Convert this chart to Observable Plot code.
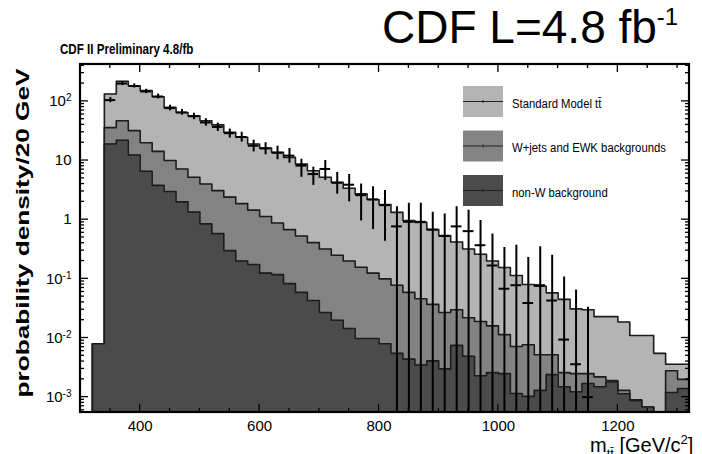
<!DOCTYPE html>
<html>
<head>
<meta charset="utf-8">
<script src="https://cdn.jsdelivr.net/npm/d3@7"></script>
<script src="https://cdn.jsdelivr.net/npm/@observablehq/plot@0.6"></script>
<style>
  html, body { margin: 0; padding: 0; background: #fff; }
  #chart { width: 702px; height: 454px; overflow: hidden; }
  #chart svg { display: block; }
</style>
</head>
<body>
<div id="chart"></div>
<script>
// Lower edges of the 20 GeV/c^2 mass bins
const binLow = [320, 340, 360, 380, 400, 420, 440, 460, 480, 500,
                520, 540, 560, 580, 600, 620, 640, 660, 680, 700,
                720, 740, 760, 780, 800, 820, 840, 860, 880, 900,
                920, 940, 960, 980, 1000, 1020, 1040, 1060, 1080, 1100,
                1120, 1140, 1160, 1180, 1200, 1220, 1240, 1260, 1280, 1300];
const binWidth = 20;

// Stacked predictions (probability density / 20 GeV)
// top of the stack: Standard Model tt + W+jets/EWK + non-W
const smTotal = [0.008, 133, 218, 184, 152, 120, 79, 65, 57, 47,
                 40, 30, 24.7, 19, 16.3, 13.8, 11.3, 8.7, 6.7, 5.2,
                 4.3, 3.4, 2.73, 2.19, 1.80, 1.33, 0.97, 0.90, 0.68, 0.54,
                 0.42, 0.32, 0.26, 0.20, 0.155, 0.114, 0.080, 0.075, 0.058, 0.045,
                 0.031, 0.030, 0.023, 0.023, 0.0186, 0.011, 0.011, 0.0055, 0.0036, 0.0036];
// W+jets and EWK backgrounds stacked on non-W
const wjetsStack = [0.008, 36, 47, 32, 20, 14.3, 10, 7.2, 5.2, 4.0,
                    3.1, 2.41, 1.87, 1.45, 1.13, 0.88, 0.68, 0.53, 0.41, 0.32,
                    0.25, 0.20, 0.157, 0.125, 0.10, 0.078, 0.059, 0.046, 0.037, 0.027,
                    0.030, 0.022, 0.019, 0.016, 0.0114, 0.0072, 0.0077, 0.0052, 0.0052, 0.0026,
                    0.0025, 0.0025, 0.0022, 0.0019, 0.0013, 0.0009, 0.00068, 0, 0.0028, 0.0020];
// non-W background
const nonW = [0.008, 19, 22, 12.4, 6.6, 3.8, 3.0, 2.0, 1.35, 0.85,
              0.58, 0.30, 0.20, 0.175, 0.125, 0.118, 0.083, 0.059, 0.043, 0.027,
              0.020, 0.0145, 0.0098, 0.0098, 0.0080, 0.0055, 0.0044, 0.0035, 0.0041, 0.0030,
              0.0075, 0.0049, 0.0023, 0.0026, 0.0025, 0.00115, 0.00103, 0.0013, 0.0024, 0.0015,
              0.00123, 0.0017, 0.0015, 0.0018, 0.00114, 0.00087, 0.00068, 0, 0.0012, 0.0014];

// Unfolded data: bin centre, value and error-bar ends (0 = bar reaches the axis)
const dataMass = [350, 370, 390, 410, 430, 450, 470, 490, 510, 530,
                  550, 570, 590, 610, 630, 650, 670, 690, 710, 730,
                  750, 770, 790, 810, 830, 850, 870, 890, 910, 930,
                  950, 970, 990, 1010, 1030, 1050, 1070, 1090, 1110, 1130, 1150];
const dataValue = [105, 200, 182, 147, 121, 77, 65, 56, 44, 37,
                   29, 25, 17.8, 16, 13.5, 12.1, 8.2, 5.9, 7.2, 4.2,
                   3.9, 2.6, 2.2, 1.76, 0.77, 0.92, 0.92, 0.68, 0.53, 0.77,
                   0.64, 0.37, 0.168, 0.068, 0.078, 0.039, 0.078, 0.043, 0.0094, 0.0036, 0.001];
const dataLow = [95, 185, 168, 135, 110, 69, 58, 49, 38, 31,
                 24, 20.5, 14, 12.5, 10.3, 9, 5.2, 3.8, 4.6, 2.7,
                 2.0, 0.95, 0.68, 0.43, 0, 0, 0, 0, 0, 0,
                 0, 0, 0, 0, 0, 0, 0, 0, 0, 0, 0];
const dataHigh = [116, 215, 197, 160, 133, 86, 73, 63, 51, 43,
                  34, 30, 22, 20, 17.5, 16, 10.5, 7.7, 10, 6.3,
                  5.8, 4.0, 3.6, 3.1, 1.66, 1.9, 1.9, 1.33, 1.25, 1.66,
                  1.45, 0.97, 0.57, 0.34, 0.37, 0.23, 0.35, 0.25, 0.107, 0.065, 0.033];

const yTickValues = [1e-3, 1e-2, 1e-1, 1, 10, 100];
const yTickText = ["10^-3", "10^-2", "10^-1", "1", "10", "10^2"];
const xTickValues = [400, 600, 800, 1000, 1200];

const legendLabels = ["Standard Model t\u0074\u0304", "W+jets and EWK backgrounds", "non-W background"];

const colLight = "#b4b4b4", colMid = "#838383", colDark = "#4b4b4b", colEdge = "#1c1c1c";
const floorVal = 1e-6;
const font = "'Liberation Sans', Arial, Helvetica, sans-serif";

// Step outline of one histogram, closed down to the axis on the left
function steps(values) {
  const pts = [{x: binLow[0], y: floorVal}];
  binLow.forEach((x, i) => pts.push({x, y: values[i] > 0 ? values[i] : floorVal}));
  const last = values[values.length - 1];
  pts.push({x: binLow[binLow.length - 1] + binWidth, y: last > 0 ? last : floorVal});
  return pts;
}

const layers = [
  {values: smTotal, fill: colLight},
  {values: wjetsStack, fill: colMid},
  {values: nonW, fill: colDark}
];

const dataRows = dataMass.map((m, i) => ({
  m, v: dataValue[i], lo: dataLow[i] > 0 ? dataLow[i] : floorVal, hi: dataHigh[i]
}));

const marks = [];
for (const L of layers) {
  const pts = steps(L.values);
  marks.push(Plot.areaY(pts, {x: "x", y1: floorVal, y2: "y", curve: "step-after", fill: L.fill, clip: true}));
  marks.push(Plot.lineY(pts, {x: "x", y: "y", curve: "step-after", stroke: colEdge, strokeWidth: 1.6, clip: true}));
}
marks.push(Plot.ruleX(dataRows, {x: "m", y1: "lo", y2: "hi", stroke: "#000", strokeWidth: 2, clip: true}));
marks.push(Plot.ruleY(dataRows, {y: "v", x1: d => d.m - 9, x2: d => d.m + 9, stroke: "#000", strokeWidth: 2, clip: true}));
marks.push(Plot.axisX({ticks: xTickValues, tickSize: 0, tickPadding: 8, fontSize: 15, label: null, tickFormat: d => String(d)}));
marks.push(Plot.axisY({ticks: yTickValues, tickSize: 0, tickPadding: 9, fontSize: 15, label: null,
  tickFormat: d => yTickText[yTickValues.indexOf(d)]}));

const plot = Plot.plot({
  width: 702,
  height: 454,
  marginLeft: 80,
  marginRight: 13,
  marginTop: 64,
  marginBottom: 42,
  style: {fontFamily: font, background: "#fff", color: "#000", overflow: "visible"},
  x: {domain: [300, 1320]},
  y: {type: "log", domain: [5.5e-4, 420]},
  marks
});

document.getElementById("chart").appendChild(plot);

const svg = d3.select(plot);
const xs = plot.scale("x"), ys = plot.scale("y");
const X0 = xs.apply(300), X1 = xs.apply(1320);
const Y0 = ys.apply(420), Y1 = ys.apply(5.5e-4);

// Superscript exponents on the y tick labels
svg.selectAll("g[aria-label='y-axis tick label'] text").each(function () {
  const t = d3.select(this);
  const s = t.text();
  if (s.includes("^")) {
    const [base, exp] = s.split("^");
    t.text("");
    t.append("tspan").text(base);
    t.append("tspan").attr("dy", "-0.5em").attr("font-size", "10px").text(exp);
  }
});

// Frame with inward ticks on all four sides
const g = svg.append("g").attr("stroke", "#000").attr("fill", "none");
const tickY = [];
for (let e = -4; e <= 2; e++) for (let m = 1; m <= 9; m++) {
  const v = m * Math.pow(10, e);
  if (v >= 5.5e-4 && v <= 420) tickY.push({v, major: m === 1});
}
for (const t of tickY) {
  const y = ys.apply(t.v), len = t.major ? 8 : 4;
  g.append("line").attr("x1", X0).attr("x2", X0 + len).attr("y1", y).attr("y2", y).attr("stroke-width", 1.3);
  g.append("line").attr("x1", X1).attr("x2", X1 - len).attr("y1", y).attr("y2", y).attr("stroke-width", 1.3);
}
for (const v of d3.range(350, 1320, 50)) {
  const x = xs.apply(v), len = (v % 200 === 0) ? 8 : 4;
  g.append("line").attr("x1", x).attr("x2", x).attr("y1", Y1).attr("y2", Y1 - len).attr("stroke-width", 1.3);
  g.append("line").attr("x1", x).attr("x2", x).attr("y1", Y0).attr("y2", Y0 + len).attr("stroke-width", 1.3);
}
g.append("rect").attr("x", X0).attr("y", Y0).attr("width", X1 - X0).attr("height", Y1 - Y0).attr("stroke-width", 2.2);

// Legend
const legend = svg.append("g").attr("font-family", font).attr("text-anchor", "start");
[colLight, colMid, colDark].forEach((c, i) => {
  const top = 86 + i * 44.5;
  legend.append("rect").attr("x", 463).attr("y", top).attr("width", 40).attr("height", 31).attr("fill", c);
  legend.append("line").attr("x1", 463).attr("x2", 503).attr("y1", top + 15.5).attr("y2", top + 15.5)
    .attr("stroke", "#222").attr("stroke-width", 1);
  legend.append("line").attr("x1", 483).attr("x2", 483).attr("y1", top + 14).attr("y2", top + 17)
    .attr("stroke", "#222").attr("stroke-width", 1);
  legend.append("text").attr("transform", `translate(512,${top + 21.5}) scale(0.84,1)`)
    .attr("font-size", 13.5).attr("fill", "#000").text(legendLabels[i]);
});

// Titles and axis labels
const labels = svg.append("g").attr("font-family", font).attr("text-anchor", "start").attr("fill", "#000");

labels.append("text").attr("transform", "translate(60,54) scale(0.8,1)")
  .attr("font-weight", "bold").attr("font-size", 14.5).text("CDF II Preliminary 4.8/fb");

const big = labels.append("text").attr("x", 382).attr("y", 43).attr("font-size", 46);
big.append("tspan").text("CDF L=4.8 fb");
big.append("tspan").attr("font-size", 24).attr("dy", -18).text("-1");

labels.append("text").attr("transform", "translate(29,233) rotate(-90) scale(1.38,1)").attr("text-anchor", "middle")
  .attr("font-weight", "bold").attr("font-size", 19).text("probability density/20 GeV");

const xl = labels.append("text").attr("x", 590).attr("y", 452).attr("font-size", 20);
xl.append("tspan").text("m");
xl.append("tspan").attr("font-size", 13).attr("dy", 6).text("t\u0074\u0304");
xl.append("tspan").attr("dy", -6).text(" [GeV/c");
xl.append("tspan").attr("font-size", 13).attr("dy", -8).text("2");
xl.append("tspan").attr("dy", 8).text("]");
</script>
</body>
</html>
